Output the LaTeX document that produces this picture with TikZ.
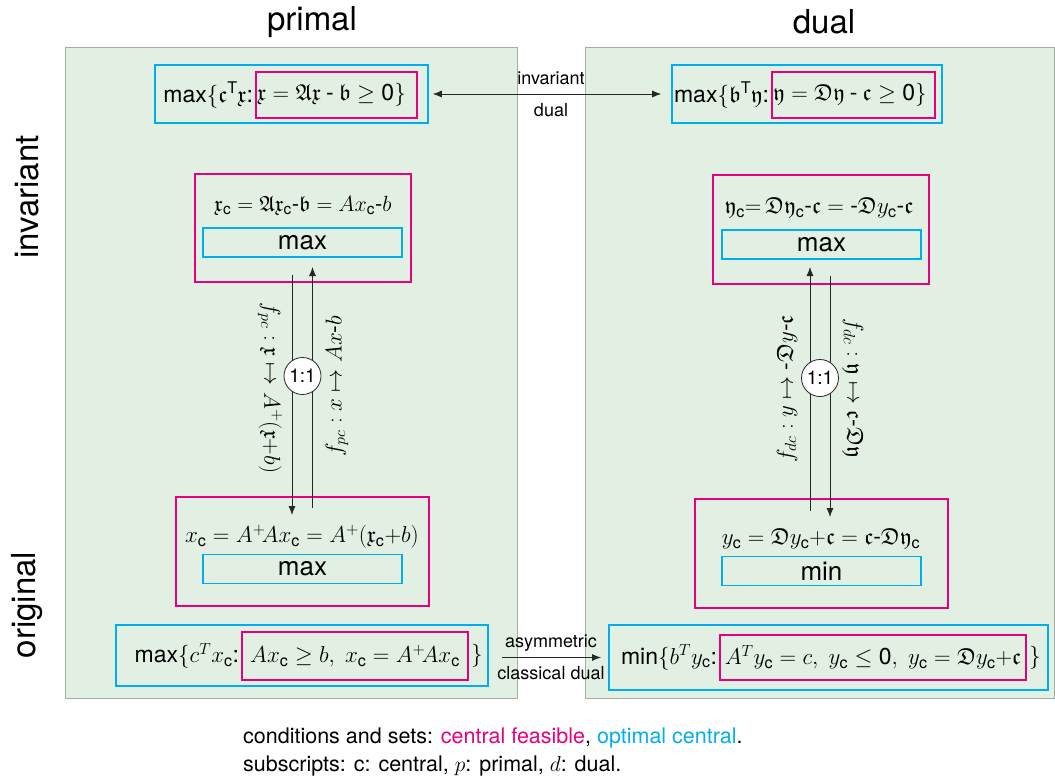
\documentclass[tikz,border=0pt]{standalone}
\usepackage{fix-cm}
\usepackage{amsmath,amssymb}
\usepackage{fontspec}
\setmainfont{TeX Gyre Heros}
\usetikzlibrary{arrows.meta}
\definecolor{pk}{RGB}{230,0,126}
\definecolor{cy}{RGB}{0,174,239}
\definecolor{gr}{RGB}{226,240,228}
\definecolor{pg}{RGB}{165,172,165}
\newcommand{\Cc}{\text{c}}
\newcommand{\hy}{\text{-}}
\newcommand{\bhy}{\mathbin{\text{-}}}
\newcommand{\zr}{\text{0}}
\newcommand{\fx}{\mathfrak{x}}
\newcommand{\fy}{\mathfrak{y}}
\newcommand{\fA}{\mathfrak{A}}
\newcommand{\fD}{\mathfrak{D}}
\newcommand{\fb}{\mathfrak{b}}
\newcommand{\fc}{\mathfrak{c}}
\begin{document}
\begin{tikzpicture}[x=1pt,y=-1pt,
  panel/.style={fill=gr,draw=pg,line width=0.8pt},
  pinkb/.style={draw=pk,line width=1.6pt,inner sep=0pt},
  blueb/.style={draw=cy,line width=1.6pt,inner sep=0pt},
  big/.style={font=\fontsize{33}{38}\selectfont},
  mid/.style={font=\fontsize{23}{27}\selectfont,inner sep=1pt},
  opt/.style={font=\fontsize{26}{30}\selectfont},
  lab/.style={font=\fontsize{21.5}{25}\selectfont,inner sep=1pt},
  sml/.style={font=\fontsize{18}{21}\selectfont,inner sep=1pt},
  conn/.style={line width=0.8pt,draw=black!85},
  tip/.style={-{Latex[length=9pt,width=7pt]}},
  ratio/.style={circle,draw=black!85,fill=white,line width=0.8pt,minimum size=37pt,inner sep=0pt,font=\fontsize{19}{22}\selectfont}
]
\useasboundingbox (0,0) rectangle (1055,780);
% panels
\path[panel] (65,47) rectangle (517,698);
\path[panel] (585,47) rectangle (1054.5,698);
% titles
\node[big] (tprimal) at (312,22) {primal};
\node[big] (tdual) at (824,22) {dual};
\node[big,rotate=90] (tinv) at (27,197) {invariant};
\node[big,rotate=90] (torig) at (27,605) {original};

% top row
\node[blueb,minimum width=273pt,minimum height=58pt] (tlb) at (291.5,94) {};
\node[pinkb,minimum width=161pt,minimum height=46pt] (tlp) at (336.5,95) {};
\node[mid,anchor=west] (tlt) at ([xshift=1pt]tlp.west) {$\fx = \fA\fx \bhy \fb \geq \zr\}$};
\node[mid,anchor=east] (tll) at ([xshift=-1pt]tlp.west) {max$\{\fc^{\text{T}}\fx$:};

\node[blueb,minimum width=270pt,minimum height=58pt] (trb) at (807,94) {};
\node[pinkb,minimum width=163pt,minimum height=46pt] (trp) at (853.5,95) {};
\node[mid,anchor=west] (trt) at ([xshift=1pt]trp.west) {$\fy = \fD\fy \bhy \fc \geq \zr\}$};
\node[mid,anchor=east] (trl) at ([xshift=-1pt]trp.west) {max$\{\fb^{\text{T}}\fy$:};

\draw[conn,{Latex[length=9pt,width=7pt]}-{Latex[length=9pt,width=7pt]},shorten <=4pt,shorten >=10pt] (tlb.east) -- (trb.west);
\node[sml] (lid1) at (551,78) {invariant};
\node[sml] (lid2) at (551,110) {dual};

% invariant boxes
\node[pinkb,minimum width=216pt,minimum height=108pt] (lip) at (303,228) {};
\node[mid,font=\fontsize{22}{26}\selectfont] (lit) at (303,206) {$\fx_{\Cc} = \fA\fx_{\Cc}\hy\fb = Ax_{\Cc}\hy b$};
\node[blueb,minimum width=199pt,minimum height=29pt,opt] (lib) at (302.5,242.5) {max};

\node[pinkb,minimum width=216pt,minimum height=109pt] (rip) at (821,229.5) {};
\node[mid] (rit) at (819,208) {$\fy_{\Cc}{=}\, \fD\fy_{\Cc}\hy\fc = \hy\fD y_{\Cc}\hy\fc$};
\node[blueb,minimum width=199pt,minimum height=29pt,opt] (rib) at (821.5,244.5) {max};

% original boxes
\node[pinkb,minimum width=253pt,minimum height=109pt] (lop) at (302.5,551.5) {};
\node[mid] (lot) at (302,537) {$x_{\Cc} = A^{+}\!Ax_{\Cc} = A^{+}(\fx_{\Cc}{+}b)$};
\node[blueb,minimum width=199pt,minimum height=29pt,opt] (lob) at (302.5,569) {max};

\node[pinkb,minimum width=253pt,minimum height=109pt] (rop) at (821.5,553.5) {};
\node[mid] (rot) at (821,539) {$y_{\Cc} \mathrel{=}\fD y_{\Cc}{+}\fc = \fc\hy\fD\fy_{\Cc}$};
\node[blueb,minimum width=199pt,minimum height=29pt,opt] (rob) at (821.5,571) {min};

% vertical maps
\coordinate (ld1) at (292,275);
\coordinate (ld2) at (292,515);
\coordinate (lu1) at (312.5,508);
\coordinate (lu2) at (312.5,267);
\draw[conn,tip] (ld1) -- (ld2);
\draw[conn,tip] (lu1) -- (lu2);
\node[ratio] (lr) at (302.5,376) {1:1};
\node[mid,rotate=-90] (lfl) at (270,388) {$f_{pc} : \fx \mapsto A^{+}(\fx{+}b)$};
\node[mid,rotate=90] (lfr) at (337,386) {$f_{pc} : x \mapsto Ax\hy b$};

\coordinate (ru1) at (810,511);
\coordinate (ru2) at (810,267);
\coordinate (rd1) at (830,276);
\coordinate (rd2) at (830,517);
\draw[conn,tip] (ru1) -- (ru2);
\draw[conn,tip] (rd1) -- (rd2);
\node[ratio] (rr) at (820,378) {1:1};
\node[mid,rotate=90] (rfl) at (787,389) {$f_{dc} : y \mapsto \hy\fD y\hy\fc$};
\node[mid,rotate=-90] (rfr) at (853,388) {$f_{dc} : \fy \mapsto \fc\hy\fD\fy$};

% bottom row
\node[blueb,minimum width=372pt,minimum height=61pt] (blb) at (302,655.5) {};
\node[pinkb,minimum width=226pt,minimum height=48pt] (blp) at (355,656) {};
\node[mid] (blt) at (blp.center) {$Ax_{\Cc} \geq b,\; x_{\Cc} = A^{+}\!Ax_{\Cc}$};
\node[mid,anchor=east] (bll) at ([xshift=-1pt]blp.west) {max$\{c^Tx_{\Cc}$:};
\node[mid,anchor=west] (blr) at ([xshift=1pt]blp.east) {$\}$};

\node[blueb,minimum width=439pt,minimum height=65pt] (brb) at (828.5,657.5) {};
\node[pinkb,minimum width=306pt,minimum height=45pt] (brp) at (873,657.5) {};
\node[mid] (brt) at (brp.center) {$A^Ty_{\Cc} = c,\; y_{\Cc} \leq \zr,\; y_{\Cc} = \fD y_{\Cc}{+}\fc$};
\node[mid,anchor=east] (brl) at ([xshift=-1pt]brp.west) {min$\{b^Ty_{\Cc}$:};
\node[mid,anchor=west] (brr) at ([xshift=1pt]brp.east) {$\}$};

\coordinate (as1) at (502,657.5);
\coordinate (as2) at (601,657.5);
\draw[conn,tip] (as1) -- (as2);
\node[sml] (ac1) at (551,643) {asymmetric};
\node[sml] (ac2) at (551,673) {classical dual};

% legend
\node[lab,anchor=west] (leg1) at (242,738) {conditions and sets: \textcolor{pk}{central feasible}, \textcolor{cy}{optimal central}.};
\node[lab,anchor=west] (leg2) at (242,766) {subscripts: c: central, $p$: primal, $d$: dual.};
\end{tikzpicture}
\end{document}
